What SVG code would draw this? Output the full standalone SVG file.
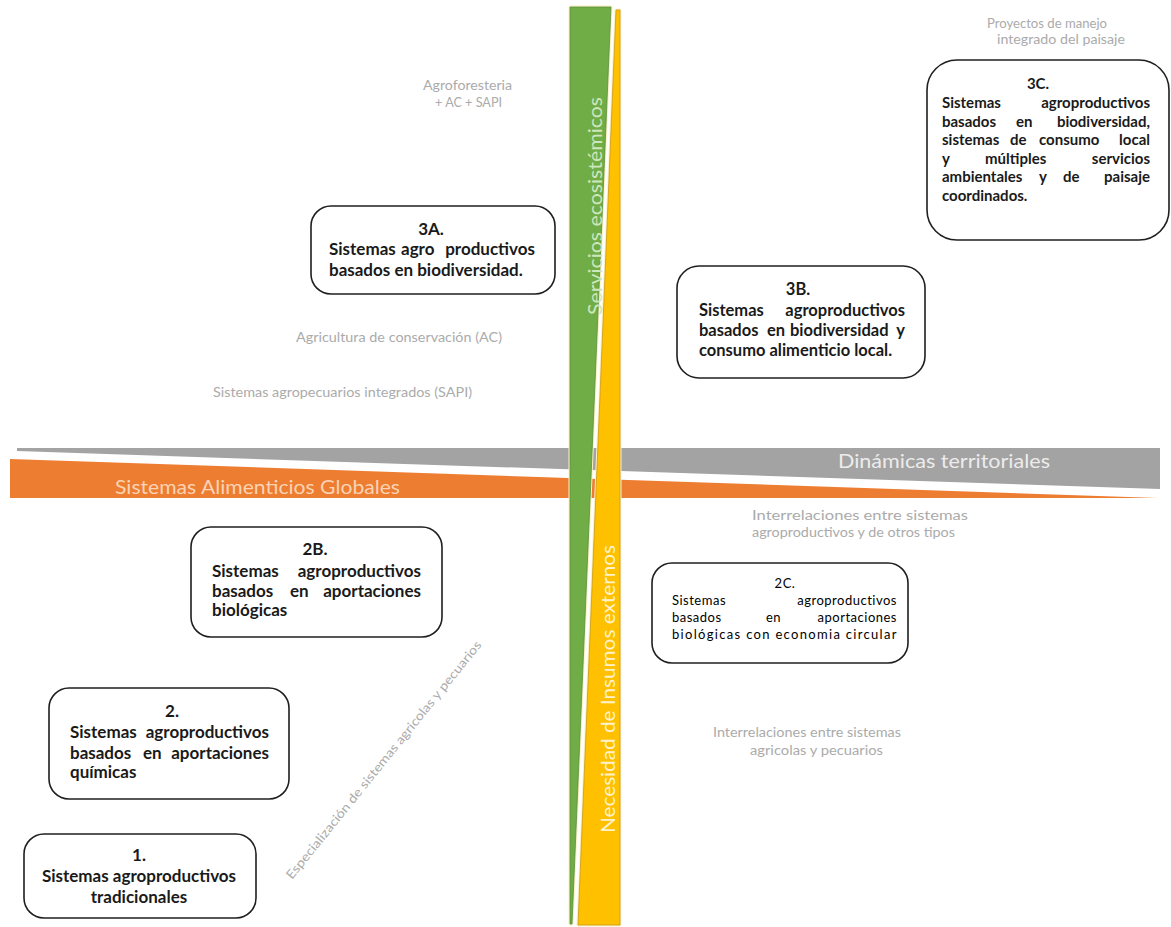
<svg xmlns="http://www.w3.org/2000/svg" width="1171" height="927" viewBox="0 0 1171 927">
  <defs>
    <style>
      .box { fill: #ffffff; stroke: #1f1f1f; stroke-width: 1.6; }
      .bt { font-family: Lato, "Liberation Sans", sans-serif; font-weight: 700; fill: #1a1a1a; }
      .bt2 { font-family: Lato, "Liberation Sans", sans-serif; font-weight: 400; fill: #000000; letter-spacing: 0.5px; }
      .lbl { font-family: Lato, "Liberation Sans", sans-serif; font-size: 12.5px; fill: #ababab; }
      .band { font-family: Lato, "Liberation Sans", sans-serif; font-size: 20px; }
      .mid { text-anchor: middle; }
      .end { text-anchor: end; }
    </style>
  </defs>

  <rect width="1171" height="927" fill="#ffffff"/>

  <!-- horizontal axes -->
  <g id="axis-horizontal">
    <polygon points="17,448 1160,448 1160,489 17,451" fill="#a3a3a3"/>
    <polygon points="10,459 1158,498 10,498" fill="#ed7d31"/>
    <text class="band" x="838" y="468" fill="#ececec" textLength="212" lengthAdjust="spacingAndGlyphs">Dinámicas territoriales</text>
    <text class="band" x="115" y="494" fill="#fbd3b4" textLength="285" lengthAdjust="spacingAndGlyphs">Sistemas Alimenticios Globales</text>
  </g>

  <!-- vertical axes -->
  <g id="axis-vertical">
    <polygon points="570,7 611,7 572,924 570,924" fill="#70ad47" stroke="#fbf1c6" stroke-width="3" stroke-linejoin="round"/>
    <polygon points="570,7 611,7 572,924 570,924" fill="#70ad47" stroke="#5b8f3a" stroke-width="0.8"/>
    <polygon points="616,10 620,10 620,925 578,925" fill="#ffc000" stroke="#fbf1c6" stroke-width="3" stroke-linejoin="round"/>
    <polygon points="616,10 620,10 620,925 578,925" fill="#ffc000" stroke="#c99a10" stroke-width="0.8"/>
    <text class="band" transform="translate(602,315) rotate(-90)" fill="#cfe6bd" textLength="218" lengthAdjust="spacingAndGlyphs">Servicios ecosistémicos</text>
    <text class="band" transform="translate(615,833) rotate(-90)" fill="#fff2cc" textLength="288" lengthAdjust="spacingAndGlyphs">Necesidad de Insumos externos</text>
  </g>

  <!-- practice labels -->
  <g id="labels">
    <text class="lbl" x="987" y="28" textLength="120" lengthAdjust="spacingAndGlyphs">Proyectos de manejo</text>
    <text class="lbl" x="997" y="44" textLength="128" lengthAdjust="spacingAndGlyphs">integrado del paisaje</text>
    <text class="lbl" x="423" y="90" textLength="89" lengthAdjust="spacingAndGlyphs">Agroforesteria</text>
    <text class="lbl" x="435" y="107" textLength="67" lengthAdjust="spacingAndGlyphs">+ AC + SAPI</text>
    <text class="lbl" x="296" y="342" textLength="206" lengthAdjust="spacingAndGlyphs">Agricultura de conservación (AC)</text>
    <text class="lbl" x="213" y="397" textLength="259" lengthAdjust="spacingAndGlyphs">Sistemas agropecuarios integrados (SAPI)</text>
    <text class="lbl" x="752" y="520" textLength="216" lengthAdjust="spacingAndGlyphs">Interrelaciones entre sistemas</text>
    <text class="lbl" x="752" y="537" textLength="203" lengthAdjust="spacingAndGlyphs">agroproductivos y de otros tipos</text>
    <text class="lbl" x="713" y="737" textLength="188" lengthAdjust="spacingAndGlyphs">Interrelaciones entre sistemas</text>
    <text class="lbl" x="750" y="755" textLength="133" lengthAdjust="spacingAndGlyphs">agricolas y pecuarios</text>
    <text class="lbl" transform="translate(292,880) rotate(-51)" textLength="302" lengthAdjust="spacingAndGlyphs">Especialización de sistemas agricolas y pecuarios</text>
  </g>

  <!-- system nodes -->
  <g id="node-3C">
    <rect class="box" x="927" y="60" width="242" height="180" rx="30"/>
    <text class="bt mid" font-size="15" x="1038" y="89">3C.</text>
    <text class="bt" font-size="15" y="108"><tspan x="942">Sistemas</tspan><tspan class="end" x="1150">agroproductivos</tspan></text>
    <text class="bt" font-size="15" y="127"><tspan x="942">basados</tspan><tspan x="1016">en</tspan><tspan class="end" x="1150">biodiversidad,</tspan></text>
    <text class="bt" font-size="15" y="145"><tspan x="942">sistemas</tspan><tspan x="1010">de</tspan><tspan x="1039">consumo</tspan><tspan class="end" x="1150">local</tspan></text>
    <text class="bt" font-size="15" y="164"><tspan x="942">y</tspan><tspan x="985">múltiples</tspan><tspan class="end" x="1150">servicios</tspan></text>
    <text class="bt" font-size="15" y="182"><tspan x="942">ambientales</tspan><tspan x="1039">y</tspan><tspan x="1063">de</tspan><tspan class="end" x="1150">paisaje</tspan></text>
    <text class="bt" font-size="15" x="942" y="201">coordinados.</text>
  </g>

  <g id="node-3A">
    <rect class="box" x="311" y="206" width="244" height="88" rx="20"/>
    <text class="bt mid" font-size="17" x="431" y="235">3A.</text>
    <text class="bt" font-size="17" y="255"><tspan x="329">Sistemas</tspan><tspan x="401">agro</tspan><tspan class="end" x="535">productivos</tspan></text>
    <text class="bt" font-size="17" x="329" y="276">basados en biodiversidad.</text>
  </g>

  <g id="node-3B">
    <rect class="box" x="677" y="266" width="248" height="112" rx="22"/>
    <text class="bt mid" font-size="16.5" x="798" y="295">3B.</text>
    <text class="bt" font-size="16.5" y="316"><tspan x="699">Sistemas</tspan><tspan class="end" x="905">agroproductivos</tspan></text>
    <text class="bt" font-size="16.5" y="336"><tspan x="699">basados</tspan><tspan x="767">en</tspan><tspan x="790">biodiversidad</tspan><tspan class="end" x="905">y</tspan></text>
    <text class="bt" font-size="16.5" x="699" y="356">consumo alimenticio local.</text>
  </g>

  <g id="node-2B">
    <rect class="box" x="191" y="527" width="251" height="110" rx="20"/>
    <text class="bt mid" font-size="17" x="315" y="555">2B.</text>
    <text class="bt" font-size="17" y="577"><tspan x="212">Sistemas</tspan><tspan class="end" x="421">agroproductivos</tspan></text>
    <text class="bt" font-size="17" y="597"><tspan x="212">basados</tspan><tspan x="290">en</tspan><tspan class="end" x="421">aportaciones</tspan></text>
    <text class="bt" font-size="17" x="212" y="616">biológicas</text>
  </g>

  <g id="node-2C">
    <rect class="box" x="652" y="563" width="256" height="100" rx="20"/>
    <text class="bt2 mid" font-size="13" font-weight="700" x="785" y="588">2C.</text>
    <text class="bt2" font-size="13" y="605"><tspan x="672">Sistemas</tspan><tspan class="end" x="897">agroproductivos</tspan></text>
    <text class="bt2" font-size="13" y="622"><tspan x="672">basados</tspan><tspan x="766">en</tspan><tspan class="end" x="897">aportaciones</tspan></text>
    <text class="bt2" font-size="13" x="672" y="639" textLength="225" lengthAdjust="spacing">biológicas con economia circular</text>
  </g>

  <g id="node-2">
    <rect class="box" x="49" y="688" width="240" height="111" rx="20"/>
    <text class="bt mid" font-size="17" x="172" y="717">2.</text>
    <text class="bt" font-size="17" y="738"><tspan x="70">Sistemas</tspan><tspan class="end" x="269">agroproductivos</tspan></text>
    <text class="bt" font-size="17" y="759"><tspan x="70">basados</tspan><tspan x="143">en</tspan><tspan class="end" x="269">aportaciones</tspan></text>
    <text class="bt" font-size="17" x="70" y="778">químicas</text>
  </g>

  <g id="node-1">
    <rect class="box" x="24" y="834" width="232" height="84" rx="20"/>
    <text class="bt mid" font-size="17" x="139" y="861">1.</text>
    <text class="bt mid" font-size="17" x="139" y="882">Sistemas agroproductivos</text>
    <text class="bt mid" font-size="17" x="139" y="903">tradicionales</text>
  </g>

  <!-- no connectors between nodes -->
  <g id="connectors"/>
</svg>
